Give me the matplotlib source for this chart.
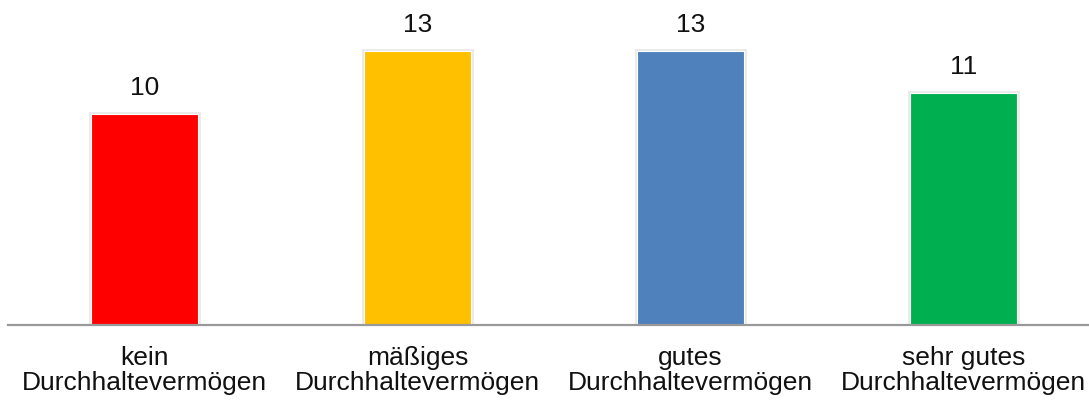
import matplotlib.pyplot as plt
import matplotlib.patheffects as pe

plt.rcParams['font.family'] = ['Liberation Sans', 'DejaVu Sans']

# Ausprägung des Durchhaltevermögens und Anzahl
categories = ['kein\nDurchhaltevermögen', 'mäßiges\nDurchhaltevermögen',
              'gutes\nDurchhaltevermögen', 'sehr gutes\nDurchhaltevermögen']
counts = [10, 13, 13, 11]
colors = ['#FF0000', '#FFC000', '#4F81BD', '#00B050']

fig = plt.figure(figsize=(10.89, 4.03), dpi=100)
ax = fig.add_axes([8 / 1089, 78 / 403, 1092 / 1089, 325 / 403])

x = range(len(categories))
bars = ax.bar(x, counts, width=0.39, color=colors, edgecolor='white', linewidth=0.8)
for b in bars:
    b.set_path_effects([pe.Stroke(linewidth=3.5, foreground='#d0d0d0', alpha=0.45), pe.Normal()])

for xi, v in zip(x, counts):
    ax.annotate(str(v), (xi, v), xytext=(0, 10), textcoords='offset points',
                ha='center', va='bottom', fontsize=19, color='#111111')

ax.set_xlim(-0.5, 3.5)
ax.set_ylim(0, 325 / 21.1)
ax.set_xticks(list(x))
ax.set_xticklabels(categories, fontsize=19, color='#111111', linespacing=1.08)
ax.tick_params(axis='x', length=0, pad=15)
ax.set_yticks([])
for s in ['top', 'right', 'left']:
    ax.spines[s].set_visible(False)
ax.spines['bottom'].set_color('#999999')
ax.spines['bottom'].set_linewidth(1.6)

fig.savefig('out.png', dpi=100)
